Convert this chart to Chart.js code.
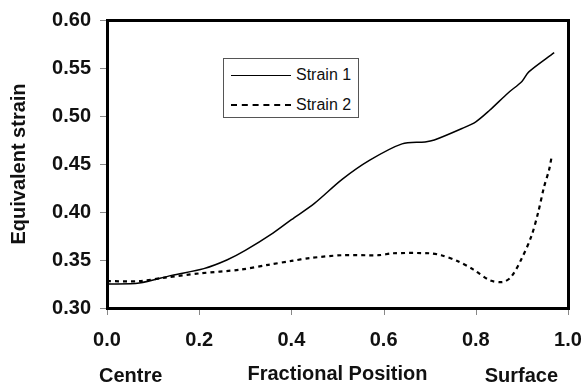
<!DOCTYPE html>
<html>
<head>
<meta charset="utf-8">
<script src="https://cdn.jsdelivr.net/npm/chart.js@4/dist/chart.umd.min.js"></script>
<style>
  html, body { margin: 0; padding: 0; background: #fff; }
  #wrap { position: relative; width: 584px; height: 387px; overflow: hidden; }
  #overlay { position: absolute; left: 0; top: 0; width: 584px; height: 387px; pointer-events: none; }
  #legend {
    position: absolute; left: 223px; top: 58px; width: 134px; height: 58px;
    border: 1px solid #555; background: #fff;
    font-family: "Liberation Sans", Arial, sans-serif; font-size: 16px; color: #111;
  }
  .row { position: absolute; left: 7px; height: 20px; display: flex; align-items: center; }
  .sw { width: 60px; height: 0; margin-right: 5px; }
</style>
</head>
<body>
<div id="wrap">
  <canvas id="c" width="584" height="387"></canvas>
  <div id="overlay"></div>
  <div id="legend"></div>
</div>
<script>
const strain1X = [0, 0.07, 0.14, 0.21, 0.26, 0.30, 0.36, 0.40, 0.45, 0.51, 0.57, 0.64, 0.69, 0.71, 0.77, 0.80, 0.83, 0.87, 0.90, 0.915, 0.97];
const strain1Y = [0.325, 0.326, 0.334, 0.341, 0.350, 0.360, 0.378, 0.392, 0.409, 0.434, 0.454, 0.471, 0.473, 0.475, 0.487, 0.494, 0.506, 0.524, 0.536, 0.546, 0.566];
const strain2X = [0, 0.07, 0.13, 0.20, 0.29, 0.35, 0.40, 0.44, 0.51, 0.59, 0.62, 0.70, 0.725, 0.76, 0.795, 0.83, 0.858, 0.876, 0.898, 0.92, 0.935, 0.948, 0.959, 0.965];
const strain2Y = [0.328, 0.328, 0.332, 0.336, 0.340, 0.345, 0.349, 0.352, 0.355, 0.355, 0.357, 0.357, 0.355, 0.349, 0.340, 0.329, 0.327, 0.332, 0.350, 0.374, 0.399, 0.426, 0.444, 0.459];
const seriesNames = ["Strain 1", "Strain 2"];
const xTitle = "Fractional Position";
const xLeftLabel = "Centre";
const xRightLabel = "Surface";
const yTitle = "Equivalent strain";

const FONT = '"Liberation Sans", Arial, sans-serif';
const FS = 20;

const endLabels = {
  id: 'endLabels',
  afterDraw(chart) {
    const {ctx, chartArea: a} = chart;
    ctx.save();
    ctx.fillStyle = '#111';
    ctx.font = 'bold ' + FS + 'px ' + FONT;
    ctx.textBaseline = 'alphabetic';
    ctx.textAlign = 'left';
    ctx.fillText(xLeftLabel, a.left - 8, 382);
    ctx.textAlign = 'right';
    ctx.fillText(xRightLabel, a.right - 10, 382);
    ctx.restore();
  }
};

const chart = new Chart(document.getElementById('c'), {
  type: 'line',
  data: {
    datasets: [
      {
        label: seriesNames[0],
        data: strain1X.map((x, i) => ({x, y: strain1Y[i]})),
        borderColor: '#000', borderWidth: 1.5, pointRadius: 0, tension: 0.3, fill: false
      },
      {
        label: seriesNames[1],
        data: strain2X.map((x, i) => ({x, y: strain2Y[i]})),
        borderColor: '#000', borderWidth: 2.2, borderDash: [4, 4], pointRadius: 0, tension: 0.3, fill: false
      }
    ]
  },
  options: {
    responsive: false,
    animation: false,
    layout: { padding: { top: 20, right: 16, left: 0, bottom: 0 } },
    plugins: { legend: { display: false }, tooltip: { enabled: false } },
    scales: {
      x: {
        type: 'linear', min: 0, max: 1,
        afterFit(s) { s.height = 79; s.paddingLeft = 0; s.paddingRight = 0; },
        ticks: { stepSize: 0.2, color: '#111', padding: 14, maxRotation: 0,
                 font: { family: FONT, size: FS, weight: 'bold' },
                 callback: v => v.toFixed(1) },
        grid: { display: false, drawOnChartArea: false, tickLength: 6 },
        border: { display: false },
        title: { display: true, text: xTitle, color: '#111',
                 font: { family: FONT, size: FS, weight: 'bold' }, padding: { top: 0, bottom: 1 } }
      },
      y: {
        type: 'linear', min: 0.3, max: 0.6,
        afterFit(s) { s.width = 107; s.paddingTop = 0; s.paddingBottom = 0; },
        ticks: { stepSize: 0.05, color: '#111', padding: 9,
                 font: { family: FONT, size: FS, weight: 'bold' },
                 callback: v => v.toFixed(2) },
        grid: { display: false, drawOnChartArea: false, tickLength: 7 },
        border: { display: false },
        title: { display: true, text: yTitle, color: '#111',
                 font: { family: FONT, size: FS, weight: 'bold' }, padding: { top: 7, bottom: 0 } }
      }
    }
  },
  plugins: [endLabels]
});

// Frame and tick marks as an overlay, placed from the library's chart area and scales
const ov = document.getElementById('overlay');
const a = chart.chartArea;
function box(l, t, w, h, color) {
  const d = document.createElement('div');
  d.style.cssText = 'position:absolute;left:' + l + 'px;top:' + t + 'px;width:' + w + 'px;height:' + h + 'px;background:' + color + ';';
  ov.appendChild(d);
}
chart.scales.x.ticks.forEach(t => {
  const px = Math.round(chart.scales.x.getPixelForValue(t.value));
  box(px - 0.5, a.bottom, 1, 7, '#888');
});
chart.scales.y.ticks.forEach(t => {
  const py = Math.round(chart.scales.y.getPixelForValue(t.value));
  box(a.left - 7, py - 0.5, 7, 1, '#888');
});
const fw = 3, fh = fw / 2;
box(a.left - fh, a.top - fh, a.right - a.left + fw, fw, '#000');
box(a.left - fh, a.bottom - fh, a.right - a.left + fw, fw, '#000');
box(a.left - fh, a.top - fh, fw, a.bottom - a.top + fw, '#000');
box(a.right - fh, a.top - fh, fw, a.bottom - a.top + fw, '#000');

// HTML legend built from dataset labels
const leg = document.getElementById('legend');
chart.data.datasets.forEach((ds, i) => {
  const row = document.createElement('div');
  row.className = 'row';
  row.style.top = (i === 0 ? 6 : 36) + 'px';
  const sw = document.createElement('div');
  sw.className = 'sw';
  sw.style.borderTop = i === 0 ? '1.5px solid #000' : '2px dashed #000';
  const t = document.createElement('span');
  t.textContent = ds.label;
  row.appendChild(sw); row.appendChild(t);
  leg.appendChild(row);
});
</script>
</body>
</html>
